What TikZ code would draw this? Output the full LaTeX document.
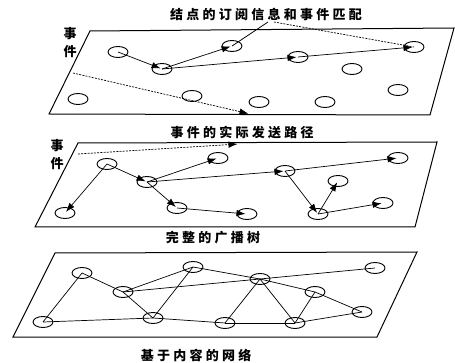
\documentclass[tikz,border=0pt]{standalone}
\usepackage{fontspec}
\newfontfamily\cjk[LetterSpace=25]{Noto Sans CJK SC}
\usetikzlibrary{shapes.geometric,arrows.meta}

\begin{document}
\begin{tikzpicture}[x=1pt,y=-1pt,
	nd/.style={draw,ellipse,minimum width=20pt,minimum height=11pt,inner sep=0pt,line width=0.9pt},
	ar/.style={-{Latex[length=9pt,width=6.5pt]},line width=0.7pt,shorten >=1.5pt},
	ln/.style={line width=0.7pt},
	dl/.style={dash pattern=on 2pt off 1.2pt},
	lab/.style={font=\cjk\bfseries\fontsize{13}{18}\selectfont,inner sep=0pt},
	pl/.style={line width=1pt}]
	\useasboundingbox (0,0) rectangle (455,363);
	% matching of subscriptions
	\draw[pl] (90,31) -- (454,28) -- (430,115) -- (49,114) -- cycle; %plane 1
	\node[lab] (tmatch) at (266,15) {结点的订阅信息和事件匹配};
	\node[lab,align=center] (ev1) at (70,43) {事\\件};
	\node[nd] (u1) at (118,52) {};
	\node[nd] (u2) at (162,69) {};
	\node[nd] (u3) at (232,46) {};
	\node[nd] (u4) at (298,57) {};
	\node[nd] (u5) at (414,47) {};
	\node[nd] (u6) at (352,69) {};
	\node[nd] (u7) at (78,99) {};
	\node[nd] (u8) at (192,96) {};
	\node[nd] (u9) at (259,102) {};
	\node[nd] (u10) at (325,102) {};
	\node[nd] (u11) at (398,90) {};
	\draw[ar] (u1.center) -- (u2.center);
	\draw[ar] (u2.center) -- (u3.center);
	\draw[ar] (u2.center) -- (u4.center);
	\draw[ar] (u4.center) -- (u5.center);
	\coordinate (tm1) at (268,22);
	\coordinate (tm2) at (274,22);
	\draw[ln] (tm1) -- (u3.center);
	\draw[ln,dl] (tm2) -- (u5.center);
	\coordinate (es1) at (73,73);
	\coordinate (ee1) at (250,114);
	\draw[ar,dl] (es1) -- (ee1); %event
	% actual path of the event
	\draw[pl] (78,143) -- (437,142) -- (415,227) -- (35,227) -- cycle; %plane 2
	\node[lab] (tpath) at (242,133) {事件的实际发送路径};
	\node[lab,align=center] (ev2) at (57,155) {事\\件};
	\node[nd] (m1) at (107,164) {};
	\node[nd] (m2) at (147,182) {};
	\node[nd] (m3) at (218,158) {};
	\node[nd] (m4) at (65,213) {};
	\node[nd] (m5) at (177,208) {};
	\node[nd] (m6) at (247,214) {};
	\node[nd] (m7) at (285,171) {};
	\node[nd] (m8) at (398,158) {};
	\node[nd] (m9) at (338,181) {};
	\node[nd] (m10) at (318,214) {};
	\node[nd] (m11) at (383,203) {};
	\draw[ar] (m1.center) -- (m4.center);
	\draw[ar] (m1.center) -- (m2.center);
	\draw[ar] (m2.center) -- (m3.center);
	\draw[ar] (m2.center) -- (m7.center);
	\draw[ar] (m2.center) -- (m5.center);
	\draw[ar] (m5.center) -- (m6.center);
	\draw[ar] (m7.center) -- (m8.center);
	\draw[ar] (m7.center) -- (m10.center);
	\draw[ar] (m10.center) -- (m9.center);
	\draw[ar] (m10.center) -- (m11.center);
	\coordinate (es2) at (78,154);
	\coordinate (ee2) at (239,144);
	\draw[ar,dl] (es2) -- (ee2); %event
	% content based network
	\draw[pl] (55,253) -- (417,252) -- (377,337) -- (13,337) -- cycle; %plane 3
	\node[lab] (ttree) at (213,238) {完整的广播树};
	\node[lab] (tnet) at (196,355) {基于内容的网络};
	\node[nd] (b1) at (82,273) {};
	\node[nd] (b2) at (123,292) {};
	\node[nd] (b3) at (193,267) {};
	\node[nd] (b4) at (260,279) {};
	\node[nd] (b5) at (375,268) {};
	\node[nd] (b6) at (315,292) {};
	\node[nd] (b7) at (362,312) {};
	\node[nd] (b8) at (43,322) {};
	\node[nd] (b9) at (153,318) {};
	\node[nd] (b10) at (225,323) {};
	\node[nd] (b11) at (295,323) {};
	\foreach \s/\t in {b1/b8,b1/b2,b2/b3,b2/b9,b3/b9,b3/b4,b2/b4,b4/b5,b4/b10,b4/b11,b4/b6,b6/b11,b6/b7,b7/b11,b8/b9,b9/b10,b10/b11}
		\draw[ln] (\s.center) -- (\t.center);
\end{tikzpicture}
\end{document}
